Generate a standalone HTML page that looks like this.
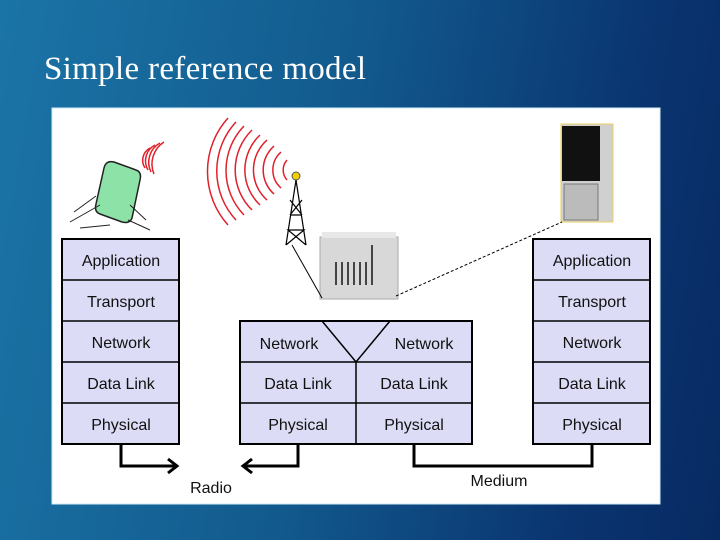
<!DOCTYPE html>
<html><head><style>
body{margin:0;width:720px;height:540px;overflow:hidden;background:linear-gradient(100deg,#1b74a6 0%,#125a8e 45%,#0a3570 80%,#082a62 100%);}
svg{position:absolute;left:0;top:0}
</style></head><body>
<svg width="720" height="540" font-family="Liberation Sans, sans-serif">
<text x="44" y="79" font-family="Liberation Serif, serif" font-size="33" fill="#fff" textLength="322">Simple reference model</text>
<rect x="52" y="108" width="608" height="396" fill="#fff" stroke="#cfeefa" stroke-width="1"/>
<g stroke="#000" stroke-width="2" fill="#dcdcf6">
<rect x="62" y="239" width="117" height="205"/>
<rect x="533" y="239" width="117" height="205"/>
<rect x="240" y="321" width="232" height="123"/>
</g>
<g stroke="#000" stroke-width="1.5" fill="none">
<path d="M62 280H179M62 321H179M62 362H179M62 403H179"/>
<path d="M533 280H650M533 321H650M533 362H650M533 403H650"/>
<path d="M240 362H472M240 403H472M356 362V444"/>
<path d="M322 321L356 362L390 321"/>
</g>
<g font-size="16" fill="#111" text-anchor="middle">
<text x="121" y="266">Application</text><text x="121" y="307">Transport</text><text x="121" y="348">Network</text><text x="121" y="389">Data Link</text><text x="121" y="430">Physical</text>
<text x="592" y="266">Application</text><text x="592" y="307">Transport</text><text x="592" y="348">Network</text><text x="592" y="389">Data Link</text><text x="592" y="430">Physical</text>
<text x="289" y="349">Network</text><text x="424" y="349">Network</text>
<text x="298" y="389">Data Link</text><text x="414" y="389">Data Link</text>
<text x="298" y="430">Physical</text><text x="414" y="430">Physical</text>
<text x="211" y="493">Radio</text><text x="499" y="486">Medium</text>
</g>
<g stroke="#000" stroke-width="3" fill="none">
<path d="M121 444V466H176"/><path d="M168 459L177 466L168 473"/>
<path d="M298 444V466H244"/><path d="M252 459L243 466L252 473"/>
<path d="M414 444V466H592V444"/>
</g>
<g stroke="#e0202a" stroke-width="1.5" fill="none">
<path d="M228 118A80 80 0 0 0 228 225"/><path d="M236 122A72 72 0 0 0 236 220"/><path d="M244 126A64 64 0 0 0 244 215"/>
<path d="M252 130A56 56 0 0 0 252 210"/><path d="M260 135A48 48 0 0 0 260 205"/><path d="M267 140A40 40 0 0 0 267 200"/>
<path d="M274 146A32 32 0 0 0 274 194"/><path d="M281 152A24 24 0 0 0 281 188"/><path d="M287 160A15 15 0 0 0 287 180"/>
<path d="M145 168A14 14 0 0 1 150 148"/><path d="M148 170A18 18 0 0 1 155 145"/><path d="M151 172A22 22 0 0 1 160 143"/><path d="M154 174A26 26 0 0 1 164 142"/>
</g>
<circle cx="296" cy="176" r="4" fill="#f0d000" stroke="#555"/>
<g stroke="#000" stroke-width="1.2" fill="none"><path d="M296 180L286 245M296 180L306 245M290 215L302 215M288 230L304 230M286 245L304 230L288 230L306 245M290 215L302 200M302 215L290 200"/></g>
<path d="M104 168Q106 160 114 162L136 170Q142 172 140 180L132 218Q130 224 122 222L100 214Q94 212 96 204Z" fill="#8de2a8" stroke="#222" stroke-width="1.5"/>
<path d="M74 212L96 196M70 222L100 205M80 228L110 225M128 220L150 230M130 205L146 220" stroke="#222" fill="none"/>
<rect x="320" y="237" width="78" height="62" fill="#d8d8d8" stroke="#aaa"/>
<rect x="322" y="232" width="74" height="6" fill="#e8e8e8"/>
<g stroke="#444" stroke-width="2"><path d="M336 262V285M342 262V285M348 262V285M354 262V285M360 262V285M366 262V285M372 245V285"/></g>
<rect x="561" y="124" width="52" height="98" fill="#d0d0d0" stroke="#e8d060"/>
<rect x="562" y="126" width="38" height="55" fill="#111"/>
<rect x="564" y="184" width="34" height="36" fill="#bbb" stroke="#777"/>
<g stroke="#000" stroke-width="1" fill="none">
<path d="M292 245L322 298"/>
<path d="M396 296L562 222" stroke-dasharray="3 2"/>
</g>
</svg>
</body></html>
